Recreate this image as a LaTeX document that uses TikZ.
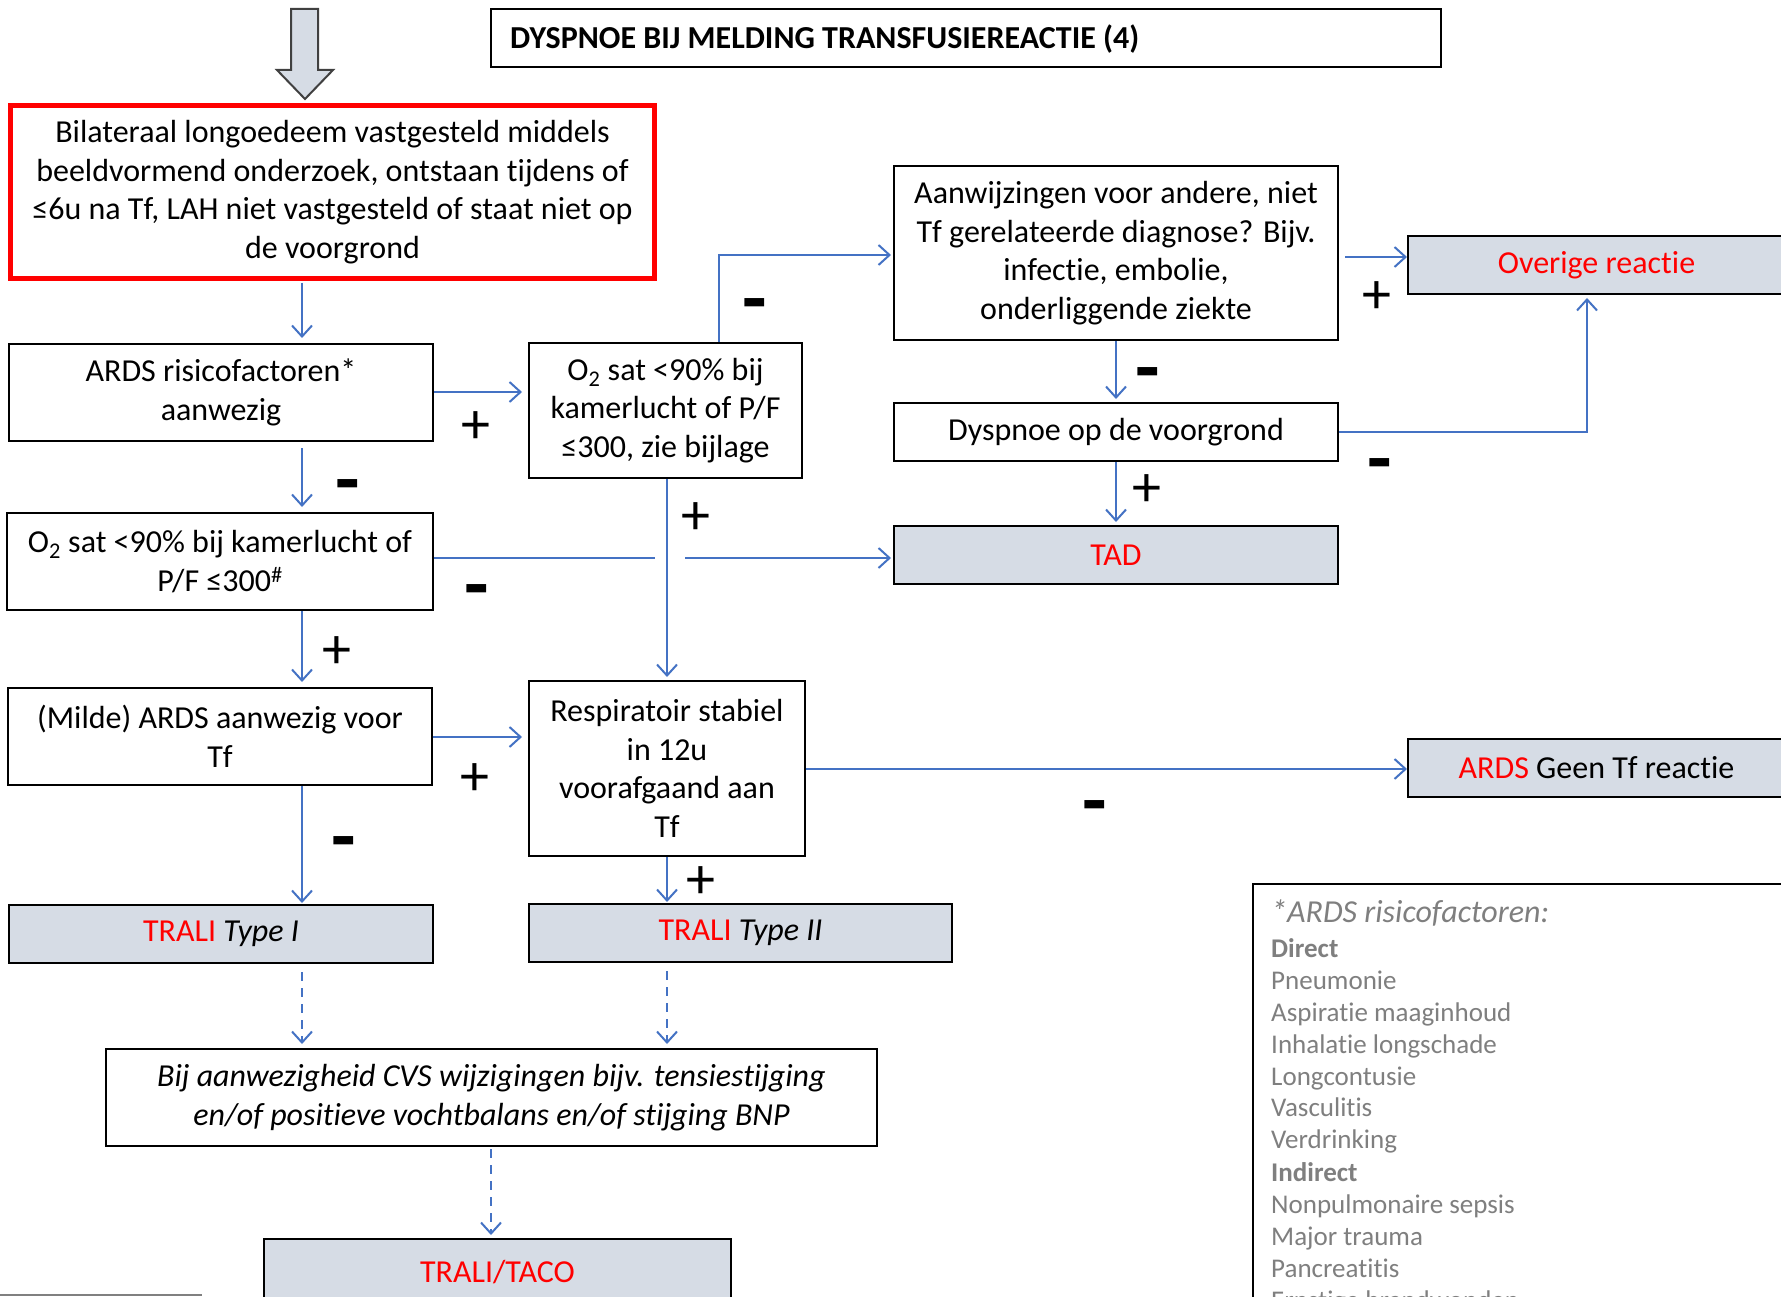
\documentclass[tikz,border=0pt]{standalone}
\usepackage{fontspec}
\setmainfont{Carlito}[Ligatures=NoCommon]
\usetikzlibrary{arrows.meta,calc}
\definecolor{arrblue}{HTML}{4472C4}
\definecolor{boxfill}{HTML}{D6DCE5}
\definecolor{legtxt}{HTML}{7F7F7F}
\definecolor{redc}{HTML}{FF0000}
\definecolor{bigarr}{HTML}{404040}
\newcommand\bodyfont{\fontsize{32}{38.6}\selectfont}
\newcommand\titlefont{\fontsize{32}{36}\selectfont\bfseries}
\newcommand\plusfont{\fontsize{58}{58}\selectfont}
\newcommand\minusfont{\fontsize{80}{80}\selectfont\bfseries}
\newcommand\legfont{\fontsize{27}{32}\selectfont}
\newcommand\legtitlefont{\fontsize{32}{36}\selectfont\itshape}
\begin{document}
\begin{tikzpicture}[x=1pt,y=-1pt,
  box/.style={draw=black, line width=2pt, inner sep=0pt, align=center, font=\bodyfont},
  resbox/.style={box, fill=boxfill},
  arr/.style={draw=arrblue, line width=2pt, -{Straight Barb[length=11pt,width=20pt,line width=2pt]}},
  darr/.style={arr, dash pattern=on 9pt off 7pt},
  plain/.style={draw=arrblue, line width=2pt},
  plussign/.style={font=\plusfont, inner sep=0pt, yshift=-3pt},
  minussign/.style={font=\minusfont, inner sep=0pt, yshift=-10pt},
  legline/.style={anchor=base west, inner sep=0pt, text=legtxt, font=\legfont},
]
\useasboundingbox (0,0) rectangle (1781,1297);
\clip (0,0) rectangle (1781,1297);
\fill[white] (0,0) rectangle (1781,1297);

% big input arrow
\draw[fill=boxfill, draw=bigarr, line width=2pt, line join=miter]
  (291,9) -- (318,9) -- (318,70) -- (333,70) -- (305,99) -- (277,70) -- (291,70) -- cycle;

% title
\node[draw=black, line width=2pt, minimum width=950pt, minimum height=58pt, inner sep=0pt] (title) at (966,38) {};
\node[anchor=west, font=\titlefont, inner sep=0pt] (titletext) at (510,39) {DYSPNOE BIJ MELDING TRANSFUSIEREACTIE (4)};

% boxes
\node[box, draw=redc, line width=5pt, minimum width=644pt, minimum height=173pt] (red) at (332.5,192)
  {Bilateraal longoedeem vastgesteld middels\\ beeldvormend onderzoek, ontstaan tijdens of\\ ≤6u na Tf, LAH niet vastgesteld of staat niet op\\ de voorgrond};
\node[box, minimum width=424pt, minimum height=97pt] (ards) at (221,392.5) {ARDS risicofactoren*\\ aanwezig};
\node[box, minimum width=273pt, minimum height=135pt] (o2m) at (665.5,410.5) {O\textsubscript{2} sat <90\% bij\\ kamerlucht of P/F\\ ≤300, zie bijlage};
\node[box, minimum width=444pt, minimum height=174pt] (aanw) at (1116,253) {Aanwijzingen voor andere, niet\\ Tf gerelateerde diagnose? Bijv.\\ infectie, embolie,\\ onderliggende ziekte};
\node[resbox, minimum width=377pt, minimum height=58pt, text=redc] (over) at (1596.5,265) {Overige reactie};
\node[box, minimum width=444pt, minimum height=58pt] (dysp) at (1116,432) {Dyspnoe op de voorgrond};
\node[resbox, minimum width=444pt, minimum height=58pt, text=redc] (tad) at (1116,555) {TAD};
\node[box, minimum width=426pt, minimum height=97pt] (o2l) at (220,561.5) {O\textsubscript{2} sat <90\% bij kamerlucht of\\ P/F ≤300\textsuperscript{\#}};
\node[box, minimum width=424pt, minimum height=97pt] (milde) at (220,736.5) {(Milde) ARDS aanwezig voor\\ Tf};
\node[box, minimum width=276pt, minimum height=175pt] (resp) at (667,768.5) {Respiratoir stabiel\\ in 12u\\ voorafgaand aan\\ Tf};
\node[resbox, minimum width=377pt, minimum height=58pt] (geen) at (1596.5,768) {\textcolor{redc}{ARDS} Geen Tf reactie};
\node[resbox, minimum width=424pt, minimum height=58pt] (t1) at (221,934) {\textcolor{redc}{TRALI} \textit{Type I}};
\node[resbox, minimum width=423pt, minimum height=58pt] (t2) at (740.5,933) {\textcolor{redc}{TRALI} \textit{Type II}};
\node[box, minimum width=771pt, minimum height=97pt, font=\bodyfont\itshape] (bij) at (491.5,1097.5) {Bij aanwezigheid CVS wijzigingen bijv. tensiestijging\\ en/of positieve vochtbalans en/of stijging BNP};
\node[resbox, minimum width=467pt, minimum height=66pt, text=redc] (taco) at (497.5,1272) {TRALI/TACO};

% legend
\node[draw=black, line width=2pt, minimum width=540pt, minimum height=430pt, inner sep=0pt, anchor=north west] (leg) at (1252,883) {};
\node[legline, font=\legtitlefont] (l0) at (1271,922) {*ARDS risicofactoren:};
\node[legline, font=\legfont\bfseries] (l1) at (1271,957) {Direct};
\node[legline] (l2) at (1271,989) {Pneumonie};
\node[legline] (l3) at (1271,1021) {Aspiratie maaginhoud};
\node[legline] (l4) at (1271,1053) {Inhalatie longschade};
\node[legline] (l5) at (1271,1085) {Longcontusie};
\node[legline] (l6) at (1271,1116) {Vasculitis};
\node[legline] (l7) at (1271,1148) {Verdrinking};
\node[legline, font=\legfont\bfseries] (l8) at (1271,1181) {Indirect};
\node[legline] (l9) at (1271,1213) {Nonpulmonaire sepsis};
\node[legline] (l10) at (1271,1245) {Major trauma};
\node[legline] (l11) at (1271,1277) {Pancreatitis};
\node[legline] (l12) at (1271,1309) {Ernstige brandwonden};

% bottom-left grey line
\coordinate (gl0) at (0,1295);
\coordinate (gl1) at (202,1295);
\draw[draw=gray, line width=2pt] (gl0) -- (gl1);

% connectors
\draw[arr, shorten <=2pt, shorten >=5pt] (red.south -| 302,0) -- (ards.north -| 302,0);
\draw[arr, shorten >=6pt] (ards.east |- 0,392) -- (o2m.west |- 0,392);
\draw[arr, shorten >=2pt] (o2m.north -| 719,0) |- (aanw.west |- 0,255);
\draw[arr, shorten <=6pt] (aanw.east |- 0,257) -- (over.west |- 0,257);
\draw[arr, shorten >=3pt] (aanw.south) -- (dysp.north);
\draw[arr, shorten >=3pt] (dysp.east) -| (over.south -| 1587,0);
\draw[arr, shorten >=3pt] (dysp.south) -- (tad.north);
\draw[arr, shorten >=3pt] (o2m.south -| 667,0) -- (resp.north -| 667,0);
\coordinate (gapL) at (655,558);
\coordinate (gapR) at (685,558);
\draw[plain, line width=1.2pt] (o2l.east |- gapL) -- (gapL);
\draw[arr, shorten >=2pt] (gapR) -- (tad.west |- gapR);
\draw[arr, shorten <=6pt, shorten >=5pt] (ards.south -| 302,0) -- (o2l.north -| 302,0);
\draw[arr, shorten >=5pt] (o2l.south -| 302,0) -- (milde.north -| 302,0);
\draw[arr, shorten >=6pt] (milde.east |- 0,737) -- (resp.west |- 0,737);
\draw[arr] (resp.east |- 0,769) -- (geen.west |- 0,769);
\draw[arr, shorten >=1pt] (milde.south -| 302,0) -- (t1.north -| 302,0);
\draw[arr, shorten >=1pt] (resp.south -| 667,0) -- (t2.north -| 667,0);
\draw[darr, shorten <=8pt, shorten >=4pt] (t1.south -| 302,0) -- (bij.north -| 302,0);
\draw[darr, shorten <=8pt, shorten >=4pt] (t2.south -| 667,0) -- (bij.north -| 667,0);
\draw[darr, shorten <=2pt, shorten >=3pt] (bij.south -| 491,0) -- (taco.north -| 491,0);

% signs
\node[plussign] (p1) at (476,425) {+};
\node[minussign] (m1) at (755,302) {-};
\node[plussign] (p2) at (1377,295) {+};
\node[minussign] (m2) at (1148,371) {-};
\node[minussign] (m3) at (1380,462) {-};
\node[plussign] (p3) at (1147,488) {+};
\node[plussign] (p4) at (696,516) {+};
\node[minussign] (m4) at (477,588) {-};
\node[minussign] (m5) at (348,483) {-};
\node[plussign] (p5) at (337,650) {+};
\node[plussign] (p6) at (475,777) {+};
\node[minussign] (m6) at (1095,804) {-};
\node[minussign] (m7) at (344,840) {-};
\node[plussign] (p7) at (701,880) {+};
\end{tikzpicture}
\end{document}
